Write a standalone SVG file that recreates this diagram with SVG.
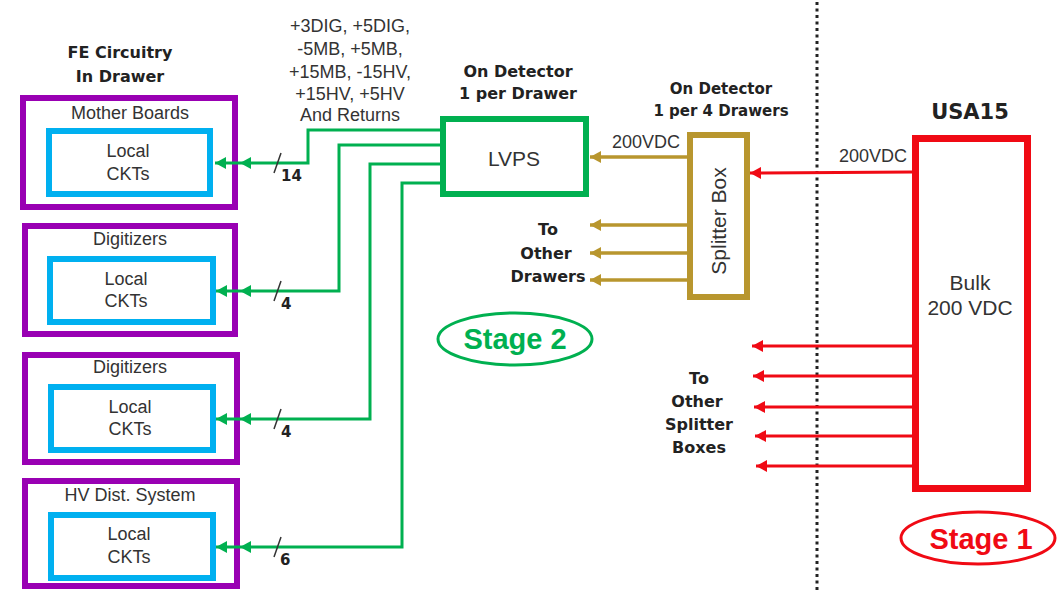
<svg xmlns="http://www.w3.org/2000/svg" width="1064" height="590" viewBox="0 0 1064 590">
<style>
.t{font-family:"Liberation Sans",Arial,sans-serif;fill:#333;text-anchor:middle}
.b{font-family:"DejaVu Sans",Verdana,sans-serif;font-weight:bold;fill:#222;text-anchor:middle}
.purple{fill:#fff;stroke:#9900B3;stroke-width:6}
.blue{fill:#fff;stroke:#00B0F0;stroke-width:6}
.g{fill:none;stroke:#00B050;stroke-width:3}
.au{fill:none;stroke:#B8962E;stroke-width:3.5}
.r{fill:none;stroke:#F00A14;stroke-width:3}
.slash{stroke:#333;stroke-width:1.5}
.num{font-family:"DejaVu Sans",sans-serif;font-weight:bold;font-size:15px;fill:#222}
</style>
<defs>
<marker id="ag" markerUnits="userSpaceOnUse" markerWidth="12" markerHeight="12" refX="11" refY="6" orient="auto"><path d="M0,0 L11,6 L0,12 z" fill="#00B050"/></marker>
<marker id="aa" markerUnits="userSpaceOnUse" markerWidth="12" markerHeight="12" refX="11" refY="6" orient="auto"><path d="M0,0 L11,6 L0,12 z" fill="#B8962E"/></marker>
<marker id="ar" markerUnits="userSpaceOnUse" markerWidth="12" markerHeight="12" refX="11" refY="6" orient="auto"><path d="M0,0 L11,6 L0,12 z" fill="#F00A14"/></marker>
</defs>
<rect width="1064" height="590" fill="#fff"/>

<line x1="817" y1="2" x2="817" y2="590" stroke="#222" stroke-width="3" stroke-dasharray="3 3.5"/>

<g id="fe-label">
<text class="b" font-size="16" x="120" y="58">FE Circuitry</text>
<text class="b" font-size="16" x="120" y="82">In Drawer</text>
</g>

<g id="motherboards">
<rect class="purple" x="23" y="98" width="212" height="109"/>
<text class="t" font-size="18" x="130" y="119">Mother Boards</text>
<rect class="blue" x="49" y="131" width="161" height="63"/>
<text class="t" font-size="18" x="128" y="157">Local</text>
<text class="t" font-size="18" x="128" y="180">CKTs</text>
</g>
<g id="digitizers1">
<rect class="purple" x="25" y="226" width="210" height="108"/>
<text class="t" font-size="18" x="130" y="245">Digitizers</text>
<rect class="blue" x="50" y="259" width="163" height="63"/>
<text class="t" font-size="18" x="126" y="285">Local</text>
<text class="t" font-size="18" x="126" y="307">CKTs</text>
</g>
<g id="digitizers2">
<rect class="purple" x="25" y="355" width="212" height="107"/>
<text class="t" font-size="18" x="130" y="373">Digitizers</text>
<rect class="blue" x="51" y="387" width="162" height="63"/>
<text class="t" font-size="18" x="130" y="413">Local</text>
<text class="t" font-size="18" x="130" y="435">CKTs</text>
</g>
<g id="hvdist">
<rect class="purple" x="25" y="481" width="212" height="105"/>
<text class="t" font-size="18" x="130" y="501">HV Dist. System</text>
<rect class="blue" x="51" y="515" width="162" height="63"/>
<text class="t" font-size="18" x="129" y="540">Local</text>
<text class="t" font-size="18" x="129" y="563">CKTs</text>
</g>

<g id="voltages">
<text class="t" font-size="18" x="350" y="32">+3DIG, +5DIG,</text>
<text class="t" font-size="18" x="350" y="55">-5MB, +5MB,</text>
<text class="t" font-size="18" x="350" y="78">+15MB, -15HV,</text>
<text class="t" font-size="18" x="350" y="100">+15HV, +5HV</text>
<text class="t" font-size="18" x="350" y="121">And Returns</text>
</g>

<g id="lvps">
<text class="b" font-size="16" x="518" y="77">On Detector</text>
<text class="b" font-size="16" x="518" y="99">1 per Drawer</text>
<rect x="443" y="119" width="143" height="75" fill="#fff" stroke="#00B050" stroke-width="6"/>
<text class="t" font-size="21" x="514" y="166">LVPS</text>
</g>

<g id="splitter">
<text class="b" font-size="15" x="721" y="94">On Detector</text>
<text class="b" font-size="15" x="721" y="116">1 per 4 Drawers</text>
<rect x="690" y="135" width="57" height="162" fill="#fff" stroke="#B8962E" stroke-width="6"/>
<text class="t" font-size="21" transform="translate(726,221) rotate(-90)" x="0" y="0">Splitter Box</text>
</g>

<g id="usa15">
<text class="b" font-size="21" x="970" y="119">USA15</text>
<rect x="915.5" y="138.5" width="112" height="350" fill="#fff" stroke="#F00A14" stroke-width="7"/>
<text class="t" font-size="21" x="970" y="290">Bulk</text>
<text class="t" font-size="21" x="970" y="315">200 VDC</text>
</g>

<g id="stage2">
<ellipse cx="515" cy="339" rx="77" ry="26" fill="none" stroke="#00B050" stroke-width="3"/>
<text font-family="Liberation Sans,Arial,sans-serif" font-weight="bold" font-size="29" fill="#00B050" text-anchor="middle" x="515" y="349">Stage 2</text>
</g>
<g id="stage1">
<ellipse cx="978" cy="538" rx="77" ry="26" fill="none" stroke="#F00A14" stroke-width="3"/>
<text font-family="Liberation Sans,Arial,sans-serif" font-weight="bold" font-size="29" fill="#F00A14" text-anchor="middle" x="981" y="549">Stage 1</text>
</g>

<g id="labels">
<text class="b" font-size="16" x="548" y="235">To</text>
<text class="b" font-size="16" x="546" y="259">Other</text>
<text class="b" font-size="16" x="548" y="282">Drawers</text>
<text class="b" font-size="16" x="699" y="384">To</text>
<text class="b" font-size="16" x="697" y="407">Other</text>
<text class="b" font-size="16" x="699" y="430">Splitter</text>
<text class="b" font-size="16" x="699" y="453">Boxes</text>
<text class="t" font-size="18" x="680" y="148" text-anchor="end" style="text-anchor:end">200VDC</text>
<text class="t" font-size="18" x="907" y="162" style="text-anchor:end">200VDC</text>
</g>

<g id="connectors">
<path class="g" d="M441,130 L308,130 L308,163 L240,163" marker-end="url(#ag)"/>
<path class="g" d="M240,163 L215,163" marker-end="url(#ag)"/>
<path class="g" d="M441,145 L339,145 L339,291 L240,291" marker-end="url(#ag)"/>
<path class="g" d="M240,291 L216,291" marker-end="url(#ag)"/>
<path class="g" d="M441,164 L370,164 L370,419 L240,419" marker-end="url(#ag)"/>
<path class="g" d="M240,419 L216,419" marker-end="url(#ag)"/>
<path class="g" d="M441,183 L402,183 L402,547 L240,547" marker-end="url(#ag)"/>
<path class="g" d="M240,547 L216,547" marker-end="url(#ag)"/>
<line class="slash" x1="274" y1="173" x2="281" y2="153"/>
<line class="slash" x1="274" y1="301" x2="281" y2="281"/>
<line class="slash" x1="274" y1="429" x2="281" y2="409"/>
<line class="slash" x1="274" y1="557" x2="281" y2="537"/>
<text class="num" x="281" y="181">14</text>
<text class="num" x="281" y="309">4</text>
<text class="num" x="281" y="437">4</text>
<text class="num" x="280" y="565">6</text>
<path class="au" d="M688,157 L590,157" marker-end="url(#aa)"/>
<path class="au" d="M688,225 L590,225" marker-end="url(#aa)"/>
<path class="au" d="M688,253 L590,253" marker-end="url(#aa)"/>
<path class="au" d="M688,280 L590,280" marker-end="url(#aa)"/>
<path class="r" d="M913,172 L750,173" marker-end="url(#ar)"/>
<path class="r" d="M913,346 L752,346" marker-end="url(#ar)"/>
<path class="r" d="M913,376 L753,376" marker-end="url(#ar)"/>
<path class="r" d="M913,407 L754,407" marker-end="url(#ar)"/>
<path class="r" d="M913,436 L755,436" marker-end="url(#ar)"/>
<path class="r" d="M913,466 L756,466" marker-end="url(#ar)"/>
</g>
</svg>
